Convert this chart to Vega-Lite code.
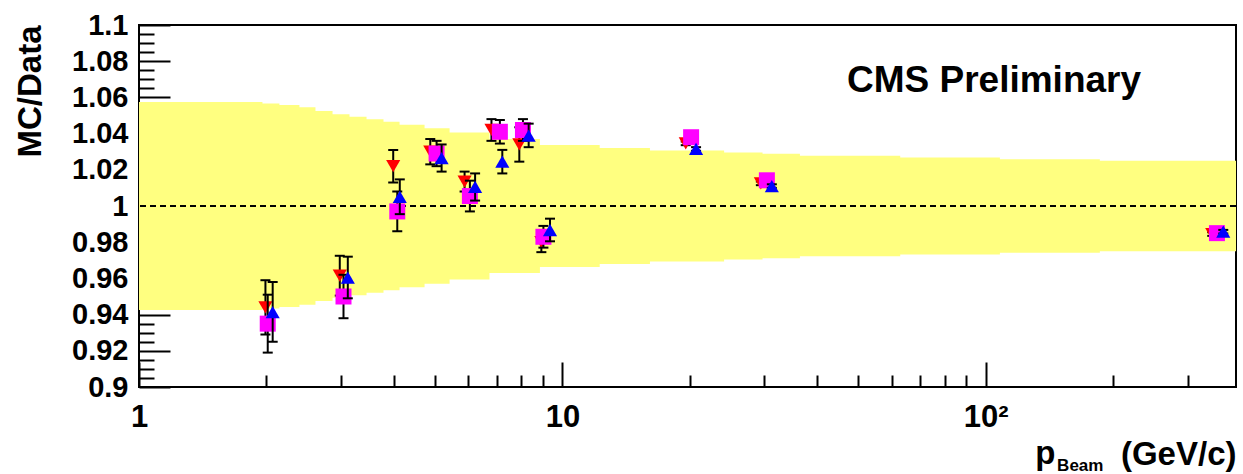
{
  "$schema": "https://vega.github.io/schema/vega-lite/v6.json",
  "width": 1097,
  "height": 362,
  "autosize": "none",
  "padding": {"left": 139, "top": 25, "right": 7, "bottom": 87},
  "background": "white",
  "config": {
    "view": {"stroke": "black", "strokeWidth": 2},
    "axis": {"grid": false, "domain": false, "tickColor": "black", "tickWidth": 2, "labelColor": "black", "titleColor": "black", "labelFont": "Liberation Sans", "titleFont": "Liberation Sans", "labelFontWeight": "bold", "titleFontWeight": "bold", "labelOverlap": false, "labelFlush": false, "zindex": 2},
    "text": {"font": "Liberation Sans", "fontWeight": "bold", "color": "black"}
  },
  "resolve": {"axis": {"x": "independent", "y": "independent"}},
  "datasets": {
    "band": [
      {"p": 1, "lo": 0.9425, "hi": 1.0575},
      {"p": 1.957, "lo": 0.9434, "hi": 1.0566},
      {"p": 2.146, "lo": 0.9442, "hi": 1.0558},
      {"p": 2.393, "lo": 0.9455, "hi": 1.0545},
      {"p": 2.611, "lo": 0.9475, "hi": 1.0525},
      {"p": 2.865, "lo": 0.9493, "hi": 1.0507},
      {"p": 3.142, "lo": 0.9507, "hi": 1.0493},
      {"p": 3.447, "lo": 0.9521, "hi": 1.0479},
      {"p": 3.78, "lo": 0.9535, "hi": 1.0465},
      {"p": 4.125, "lo": 0.9551, "hi": 1.0449},
      {"p": 4.726, "lo": 0.9571, "hi": 1.0429},
      {"p": 5.415, "lo": 0.9594, "hi": 1.0406},
      {"p": 6.727, "lo": 0.963, "hi": 1.037},
      {"p": 8.85, "lo": 0.9663, "hi": 1.0337},
      {"p": 12.25, "lo": 0.968, "hi": 1.032},
      {"p": 16.1, "lo": 0.9694, "hi": 1.0306},
      {"p": 24.1, "lo": 0.9705, "hi": 1.0295},
      {"p": 29.7, "lo": 0.9712, "hi": 1.0288},
      {"p": 36.4, "lo": 0.9722, "hi": 1.0278},
      {"p": 62.8, "lo": 0.9732, "hi": 1.0268},
      {"p": 108, "lo": 0.9742, "hi": 1.0258},
      {"p": 186, "lo": 0.975, "hi": 1.025},
      {"p": 390, "lo": 0.975, "hi": 1.025}
    ],
    "ratios": [
      {"s": "r", "p": 1.989, "v": 0.944, "lo": 0.929, "hi": 0.959},
      {"s": "r", "p": 2.98, "v": 0.9615, "lo": 0.9505, "hi": 0.9725},
      {"s": "r", "p": 3.985, "v": 1.022, "lo": 1.013, "hi": 1.031},
      {"s": "r", "p": 4.875, "v": 1.03, "lo": 1.023, "hi": 1.037},
      {"s": "r", "p": 5.875, "v": 1.0135, "lo": 1.008, "hi": 1.019},
      {"s": "r", "p": 6.8, "v": 1.042, "lo": 1.036, "hi": 1.048},
      {"s": "r", "p": 7.912, "v": 1.034, "lo": 1.0245, "hi": 1.0435},
      {"s": "r", "p": 8.92, "v": 0.98, "lo": 0.9745, "hi": 0.9855},
      {"s": "r", "p": 19.56, "v": 1.0346, "lo": 1.0336, "hi": 1.0356},
      {"s": "r", "p": 29.43, "v": 1.0125, "lo": 1.0115, "hi": 1.0135},
      {"s": "r", "p": 342.7, "v": 0.9845, "lo": 0.9835, "hi": 0.9855},
      {"s": "m", "p": 2.014, "v": 0.935, "lo": 0.919, "hi": 0.951},
      {"s": "m", "p": 3.041, "v": 0.95, "lo": 0.938, "hi": 0.962},
      {"s": "m", "p": 4.074, "v": 0.997, "lo": 0.986, "hi": 1.008},
      {"s": "m", "p": 5.045, "v": 1.029, "lo": 1.022, "hi": 1.036},
      {"s": "m", "p": 6.047, "v": 1.0055, "lo": 0.997, "hi": 1.014},
      {"s": "m", "p": 7.118, "v": 1.041, "lo": 1.0345, "hi": 1.0475},
      {"s": "m", "p": 8.07, "v": 1.042, "lo": 1.036, "hi": 1.048},
      {"s": "m", "p": 9.02, "v": 0.983, "lo": 0.977, "hi": 0.989},
      {"s": "m", "p": 20.14, "v": 1.038, "lo": 1.037, "hi": 1.039},
      {"s": "m", "p": 30.41, "v": 1.0142, "lo": 1.0132, "hi": 1.0152},
      {"s": "m", "p": 351.6, "v": 0.985, "lo": 0.984, "hi": 0.986},
      {"s": "b", "p": 2.069, "v": 0.9413, "lo": 0.925, "hi": 0.958},
      {"s": "b", "p": 3.113, "v": 0.9604, "lo": 0.949, "hi": 0.972},
      {"s": "b", "p": 4.13, "v": 1.0051, "lo": 0.9955, "hi": 1.0147},
      {"s": "b", "p": 5.185, "v": 1.0264, "lo": 1.019, "hi": 1.034},
      {"s": "b", "p": 6.221, "v": 1.0105, "lo": 1.003, "hi": 1.018},
      {"s": "b", "p": 7.213, "v": 1.0245, "lo": 1.018, "hi": 1.031},
      {"s": "b", "p": 8.325, "v": 1.0389, "lo": 1.0325, "hi": 1.0455},
      {"s": "b", "p": 9.35, "v": 0.9867, "lo": 0.9805, "hi": 0.993},
      {"s": "b", "p": 20.69, "v": 1.0315, "lo": 1.0305, "hi": 1.0325},
      {"s": "b", "p": 31.24, "v": 1.011, "lo": 1.01, "hi": 1.012},
      {"s": "b", "p": 363.9, "v": 0.9858, "lo": 0.9848, "hi": 0.9868}
    ]
  },
  "layer": [
    {
      "data": {"name": "band"},
      "mark": {"type": "area", "interpolate": "step-after", "color": "#ffff80", "opacity": 1},
      "encoding": {
        "x": {
          "field": "p",
          "type": "quantitative",
          "scale": {"type": "log", "domain": [1, 390], "nice": false},
          "axis": {
            "orient": "bottom",
            "values": [1, 10, 100],
            "labelExpr": "datum.value == 100 ? '10²' : toString(datum.value)",
            "tickSize": -25,
            "labelPadding": 40,
            "labelFontSize": 31,
            "title": "(GeV/c)",
            "titleFontSize": 33,
            "titleAnchor": "end",
            "titleAlign": "right",
            "titleBaseline": "alphabetic",
            "titleX": 1097,
            "titleY": 77
          }
        },
        "y": {
          "field": "lo",
          "type": "quantitative",
          "scale": {"domain": [0.9, 1.1], "nice": false, "zero": false},
          "axis": {
            "orient": "left",
            "values": [0.9, 0.92, 0.94, 0.96, 0.98, 1, 1.02, 1.04, 1.06, 1.08, 1.1],
            "labelExpr": "toString(round(datum.value * 100) / 100)",
            "tickSize": -31,
            "labelPadding": 42,
            "labelFontSize": 29,
            "title": "MC/Data",
            "titleFontSize": 33,
            "titleAngle": -90,
            "titleAnchor": "end",
            "titleAlign": "right",
            "titleBaseline": "alphabetic",
            "titleX": -99,
            "titleY": 0
          }
        },
        "y2": {"field": "hi"}
      }
    },
    {
      "data": {"values": [{}]},
      "mark": {"type": "rule", "color": "black", "strokeWidth": 2, "strokeDash": [6, 4]},
      "encoding": {
        "y": {
          "datum": 1,
          "type": "quantitative",
          "axis": {
            "orient": "left",
            "values": [0.905, 0.91, 0.915, 0.925, 0.93, 0.935, 0.945, 0.95, 0.955, 0.965, 0.97, 0.975, 0.985, 0.99, 0.995, 1.005, 1.01, 1.015, 1.025, 1.03, 1.035, 1.045, 1.05, 1.055, 1.065, 1.07, 1.075, 1.085, 1.09, 1.095],
            "tickSize": -15,
            "labels": false,
            "title": null
          }
        }
      }
    },
    {
      "data": {"name": "ratios"},
      "transform": [{"filter": "datum.s == 'r'"}],
      "encoding": {"x": {"field": "p", "type": "quantitative", "axis": null}},
      "layer": [
        {"mark": {"type": "rule", "color": "black", "strokeWidth": 2}, "encoding": {"y": {"field": "lo", "type": "quantitative", "axis": null}, "y2": {"field": "hi"}}},
        {"mark": {"type": "tick", "orient": "horizontal", "color": "black", "size": 10, "thickness": 2, "opacity": 1}, "encoding": {"y": {"field": "lo", "type": "quantitative", "axis": null}}},
        {"mark": {"type": "tick", "orient": "horizontal", "color": "black", "size": 10, "thickness": 2, "opacity": 1}, "encoding": {"y": {"field": "hi", "type": "quantitative", "axis": null}}},
        {"mark": {"type": "point", "shape": "triangle-down", "filled": true, "color": "#ff0000", "size": 200, "opacity": 1, "strokeWidth": 0}, "encoding": {"y": {"field": "v", "type": "quantitative", "axis": null}}}
      ]
    },
    {
      "data": {"name": "ratios"},
      "transform": [{"filter": "datum.s == 'm'"}],
      "encoding": {"x": {"field": "p", "type": "quantitative", "axis": null}},
      "layer": [
        {"mark": {"type": "rule", "color": "black", "strokeWidth": 2}, "encoding": {"y": {"field": "lo", "type": "quantitative", "axis": null}, "y2": {"field": "hi"}}},
        {"mark": {"type": "tick", "orient": "horizontal", "color": "black", "size": 10, "thickness": 2, "opacity": 1}, "encoding": {"y": {"field": "lo", "type": "quantitative", "axis": null}}},
        {"mark": {"type": "tick", "orient": "horizontal", "color": "black", "size": 10, "thickness": 2, "opacity": 1}, "encoding": {"y": {"field": "hi", "type": "quantitative", "axis": null}}},
        {"mark": {"type": "point", "shape": "square", "filled": true, "color": "#ff00ff", "size": 256, "opacity": 1, "strokeWidth": 0}, "encoding": {"y": {"field": "v", "type": "quantitative", "axis": null}}}
      ]
    },
    {
      "data": {"name": "ratios"},
      "transform": [{"filter": "datum.s == 'b'"}],
      "encoding": {"x": {"field": "p", "type": "quantitative", "axis": null}},
      "layer": [
        {"mark": {"type": "rule", "color": "black", "strokeWidth": 2}, "encoding": {"y": {"field": "lo", "type": "quantitative", "axis": null}, "y2": {"field": "hi"}}},
        {"mark": {"type": "tick", "orient": "horizontal", "color": "black", "size": 10, "thickness": 2, "opacity": 1}, "encoding": {"y": {"field": "lo", "type": "quantitative", "axis": null}}},
        {"mark": {"type": "tick", "orient": "horizontal", "color": "black", "size": 10, "thickness": 2, "opacity": 1}, "encoding": {"y": {"field": "hi", "type": "quantitative", "axis": null}}},
        {"mark": {"type": "point", "shape": "triangle-up", "filled": true, "color": "#0000ff", "size": 200, "opacity": 1, "strokeWidth": 0}, "encoding": {"y": {"field": "v", "type": "quantitative", "axis": null}}}
      ]
    },
    {
      "data": {"values": [{}]},
      "mark": {"type": "text", "text": "CMS Preliminary", "fontSize": 37, "align": "center", "baseline": "alphabetic"},
      "encoding": {
        "x": {
          "datum": 104.6,
          "type": "quantitative",
          "axis": {
            "orient": "bottom",
            "values": [2, 3, 4, 5, 6, 7, 8, 9, 20, 30, 40, 50, 60, 70, 80, 90, 200, 300],
            "tickSize": -12,
            "labels": false,
            "title": null
          }
        },
        "y": {"datum": 1.063, "type": "quantitative", "axis": null}
      }
    },
    {
      "data": {"values": [{}]},
      "mark": {"type": "text", "text": "p", "fontSize": 33, "align": "left", "baseline": "alphabetic"},
      "encoding": {"x": {"datum": 130.8, "type": "quantitative", "axis": null}, "y": {"datum": 0.8575, "type": "quantitative", "axis": null}}
    },
    {
      "data": {"values": [{}]},
      "mark": {"type": "text", "text": "Beam", "fontSize": 17, "align": "center", "baseline": "alphabetic"},
      "encoding": {"x": {"datum": 167.2, "type": "quantitative", "axis": null}, "y": {"datum": 0.8536, "type": "quantitative", "axis": null}}
    }
  ]
}
